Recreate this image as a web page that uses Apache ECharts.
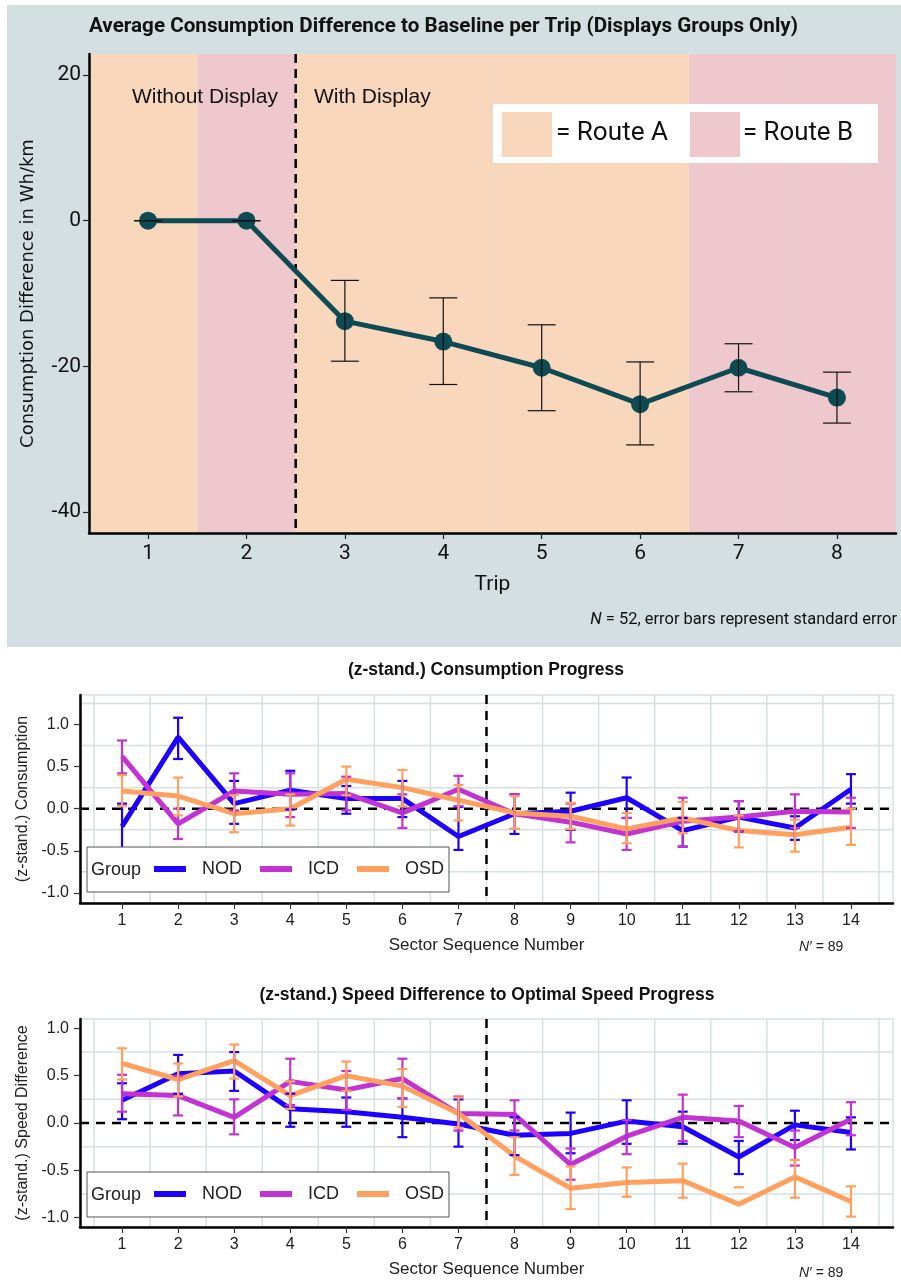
<!DOCTYPE html>
<html><head><meta charset="utf-8">
<script src="https://cdn.jsdelivr.net/npm/echarts@6/dist/echarts.min.js"></script>
<style>html,body{margin:0;padding:0;background:#fff}#c{width:901px;height:1281px}</style>
</head><body><div id="c"></div>
<script>
// ---------- DATA ----------
const trips = [1, 2, 3, 4, 5, 6, 7, 8];
const tripRoute = ['A', 'B', 'A', 'A', 'A', 'A', 'B', 'B'];
const tripMean = [0, 0, -13.8, -16.6, -20.2, -25.2, -20.2, -24.3];
const tripLow  = [0, 0, -19.3, -22.5, -26.1, -30.8, -23.5, -27.8];
const tripHigh = [0, 0, -8.2, -10.6, -14.3, -19.4, -16.9, -20.8];
const displayStart = 2.5;
const tripYTicks = [-40, -20, 0, 20];

const sectors = [1, 2, 3, 4, 5, 6, 7, 8, 9, 10, 11, 12, 13, 14];
const sectorDisplayStart = 7.5;
const zTicks = [-1, -0.5, 0, 0.5, 1];
const groups = ['NOD', 'ICD', 'OSD'];

const consNOD     = [-0.21, 0.85, 0.06, 0.22, 0.12, 0.12, -0.33, -0.06, -0.03, 0.13, -0.26, -0.10, -0.23, 0.23];
const consNODLow  = [-0.48, 0.59, -0.18, -0.01, -0.06, -0.10, -0.49, -0.30, -0.25, -0.11, -0.45, -0.27, -0.37, 0.06];
const consNODHigh = [0.06, 1.08, 0.33, 0.45, 0.27, 0.33, 0.02, 0.17, 0.19, 0.37, -0.11, 0.09, -0.09, 0.41];
const consICD     = [0.62, -0.18, 0.21, 0.17, 0.18, -0.05, 0.23, -0.06, -0.16, -0.30, -0.15, -0.10, -0.03, -0.04];
const consICDLow  = [0.42, -0.36, -0.02, -0.10, -0.02, -0.23, 0.03, -0.24, -0.40, -0.49, -0.45, -0.27, -0.23, -0.23];
const consICDHigh = [0.81, 0.00, 0.42, 0.42, 0.38, 0.17, 0.39, 0.17, 0.06, -0.11, 0.13, 0.09, 0.17, 0.13];
const consOSD     = [0.21, 0.15, -0.06, 0.00, 0.35, 0.25, 0.10, -0.05, -0.09, -0.24, -0.11, -0.26, -0.31, -0.22];
const consOSDLow  = [0.03, -0.08, -0.28, -0.20, 0.16, 0.03, -0.14, -0.24, -0.24, -0.41, -0.29, -0.46, -0.51, -0.43];
const consOSDHigh = [0.40, 0.37, 0.16, 0.17, 0.50, 0.46, 0.28, 0.15, 0.07, -0.05, 0.08, -0.08, -0.13, 0.00];

const spdNOD     = [0.24, 0.52, 0.55, 0.15, 0.12, 0.06, -0.01, -0.13, -0.11, 0.02, -0.04, -0.36, -0.02, -0.10];
const spdNODLow  = [0.04, 0.31, 0.34, -0.04, -0.04, -0.15, -0.25, -0.34, -0.32, -0.22, -0.22, -0.54, -0.18, -0.28];
const spdNODHigh = [0.42, 0.72, 0.75, 0.31, 0.27, 0.26, 0.25, 0.06, 0.11, 0.24, 0.12, -0.19, 0.13, 0.06];
const spdICD     = [0.31, 0.29, 0.06, 0.44, 0.35, 0.47, 0.10, 0.09, -0.44, -0.14, 0.06, 0.02, -0.26, 0.04];
const spdICDLow  = [0.12, 0.08, -0.12, 0.19, 0.14, 0.26, -0.08, -0.08, -0.60, -0.33, -0.19, -0.15, -0.45, -0.13];
const spdICDHigh = [0.51, 0.50, 0.25, 0.68, 0.55, 0.68, 0.28, 0.24, -0.27, 0.03, 0.30, 0.18, -0.08, 0.22];
const spdOSD     = [0.63, 0.46, 0.66, 0.29, 0.50, 0.39, 0.10, -0.35, -0.69, -0.63, -0.61, -0.86, -0.57, -0.83];
const spdOSDLow  = [0.46, 0.28, 0.47, 0.15, 0.34, 0.17, -0.05, -0.55, -0.91, -0.78, -0.79, null, -0.79, -0.99];
const spdOSDHigh = [0.79, 0.63, 0.83, 0.44, 0.65, 0.57, 0.27, -0.15, -0.46, -0.47, -0.43, -0.68, -0.39, -0.67];

// ---------- STYLE ----------
const COND = "Roboto,'Liberation Sans',sans-serif";
const SANS = "'Liberation Sans',Arial,sans-serif";
const WIDE = "'DejaVu Sans',Verdana,sans-serif";
const COL = { NOD: '#1e00ff', ICD: '#c332d2', OSD: '#ffa05f' };
const ROUTE_COL = { A: '#f8d7bd', B: '#efc8ce' };
const TEAL = '#0e4a53';
const GRIDC = '#d6e0e0';

const X1 = { min: 0.4, max: 8.6 }, Y1 = { min: -42.9, max: 22.9 };
const XS = { min: 0.25, max: 14.75 };
const Y2 = { min: -1.12, max: 1.35 }, Y3 = { min: -1.1, max: 1.1 };

const measureCtx = document.createElement('canvas').getContext('2d');
function fitScale(text, font, target) { measureCtx.font = font; return target / measureCtx.measureText(text).width; }

function ok(v) { return v !== null && v !== undefined && v !== '-' && isFinite(Number(v)); }
function pts(xs, ys) { return xs.map((x, i) => [x, ys[i]]); }
function errItems(xs, lo, hi) { return xs.map((x, i) => [x, ok(lo[i]) ? lo[i] : '-', ok(hi[i]) ? hi[i] : '-']); }

function errRender(capHalf, color, width) {
  return function (params, api) {
    const x = api.value(0), lo = api.value(1), hi = api.value(2);
    const style = { stroke: color, lineWidth: width, fill: null };
    const pLo = ok(lo) ? api.coord([x, lo]) : null;
    const pHi = ok(hi) ? api.coord([x, hi]) : null;
    const kids = [];
    if (pLo && pHi) kids.push({ type: 'line', shape: { x1: pLo[0], y1: pLo[1], x2: pHi[0], y2: pHi[1] }, style });
    [pLo, pHi].forEach(p => { if (p) kids.push({ type: 'line', shape: { x1: p[0] - capHalf, y1: p[1], x2: p[0] + capHalf, y2: p[1] }, style }); });
    return { type: 'group', children: kids };
  };
}
function vLineRender(color, width, dash) {
  return function (params, api) {
    const cs = params.coordSys;
    const x = api.coord([api.value(0), api.value(1)])[0];
    return { type: 'line', shape: { x1: x, y1: cs.y, x2: x, y2: cs.y + cs.height }, style: { stroke: color, lineWidth: width, lineDash: dash } };
  };
}
function hLineRender(color, width, dash) {
  return function (params, api) {
    const cs = params.coordSys;
    const y = api.coord([api.value(0), api.value(1)])[1];
    return { type: 'line', shape: { x1: cs.x, y1: y, x2: cs.x + cs.width, y2: y }, style: { stroke: color, lineWidth: width, lineDash: dash } };
  };
}

// ---------- BUILD ----------
const grids = [
  { left: 89, top: 54, width: 807, height: 479, show: false },
  { left: 80, top: 695, width: 813, height: 208, show: true, borderColor: GRIDC, borderWidth: 1.5, backgroundColor: '#fff' },
  { left: 80, top: 1019, width: 813, height: 208, show: true, borderColor: GRIDC, borderWidth: 1.5, backgroundColor: '#fff' }
];

const xAxes = [
  {
    gridIndex: 0, type: 'value', min: X1.min, max: X1.max,
    axisLine: { show: true, onZero: false, lineStyle: { color: '#000', width: 2.5 } },
    axisTick: { show: true, customValues: trips, length: 6, lineStyle: { color: '#222', width: 1.2 } },
    axisLabel: { customValues: trips, fontFamily: COND, fontSize: 21, color: '#111', margin: 10 },
    splitLine: { show: false },
    name: 'Trip', nameLocation: 'middle', nameGap: 41,
    nameTextStyle: { fontFamily: COND, fontSize: 21, color: '#111' }
  }
];
const yAxes = [
  {
    gridIndex: 0, type: 'value', min: Y1.min, max: Y1.max,
    axisLine: { show: true, onZero: false, lineStyle: { color: '#000', width: 2.5 } },
    axisTick: { show: true, customValues: tripYTicks, length: 6, lineStyle: { color: '#222', width: 1.2 } },
    axisLabel: { customValues: tripYTicks, fontFamily: COND, fontSize: 21, color: '#111', margin: 8 },
    splitLine: { show: false },
    name: 'Consumption Difference in Wh/km', nameLocation: 'middle', nameGap: 52, nameRotate: 90,
    nameTextStyle: { fontFamily: WIDE, fontSize: 18, color: '#111' }
  }
];
[1, 2].forEach(g => {
  const Y = g === 1 ? Y2 : Y3;
  xAxes.push({
    gridIndex: g, type: 'value', min: XS.min, max: XS.max,
    axisLine: { show: true, onZero: false, lineStyle: { color: '#000', width: 2.5 } },
    axisTick: { show: true, customValues: sectors, length: 6, lineStyle: { color: '#333', width: 1.2 } },
    axisLabel: { customValues: sectors, fontFamily: SANS, fontSize: 16, color: '#222', margin: 10 },
    splitLine: { show: false },
    name: 'Sector Sequence Number', nameLocation: 'middle', nameGap: 34,
    nameTextStyle: { fontFamily: SANS, fontSize: 17, color: '#222' }
  });
  yAxes.push({
    gridIndex: g, type: 'value', min: Y.min, max: Y.max,
    axisLine: { show: true, onZero: false, lineStyle: { color: '#000', width: 2.5 } },
    axisTick: { show: true, customValues: zTicks, length: 6, lineStyle: { color: '#333', width: 1.2 } },
    axisLabel: { customValues: zTicks, fontFamily: SANS, fontSize: 16, color: '#222', margin: 11, formatter: v => Number(v).toFixed(1) },
    splitLine: { show: false },
    name: g === 1 ? '(z-stand.) Consumption' : '(z-stand.) Speed Difference',
    nameLocation: 'middle', nameGap: 48, nameRotate: 90,
    nameTextStyle: { fontFamily: SANS, fontSize: 16, color: '#222' }
  });
});

const series = [];
// top: route bands
const bandData = trips.map((t, i) => [i === 0 ? X1.min : t - 0.5, i === trips.length - 1 ? X1.max : t + 0.5, i]);
series.push({
  type: 'custom', xAxisIndex: 0, yAxisIndex: 0, z: 0, silent: true, clip: true,
  encode: { x: [0, 1] },
  data: bandData,
  renderItem: (params, api) => {
    const cs = params.coordSys;
    const x0 = api.coord([api.value(0), 0])[0], x1 = api.coord([api.value(1), 0])[0];
    return { type: 'rect', shape: { x: x0, y: cs.y, width: x1 - x0, height: cs.height }, style: { fill: ROUTE_COL[tripRoute[api.value(2)]] } };
  }
});
series.push({
  type: 'custom', xAxisIndex: 0, yAxisIndex: 0, z: 1, silent: true,
  encode: { x: 0, y: 1 }, data: [[displayStart, 0]],
  renderItem: vLineRender('#000', 2.5, [9, 6])
});
series.push({
  name: 'Trip mean', type: 'line', xAxisIndex: 0, yAxisIndex: 0, z: 2,
  data: pts(trips, tripMean), symbol: 'circle', symbolSize: 18,
  lineStyle: { color: TEAL, width: 5 }, itemStyle: { color: TEAL }
});
series.push({
  type: 'custom', xAxisIndex: 0, yAxisIndex: 0, z: 3, silent: true,
  encode: { x: 0, y: [1, 2] }, data: errItems(trips, tripLow, tripHigh),
  renderItem: errRender(14, '#111', 1.2)
});

// lower panels
const gridXLines = sectors.map(s => s - 0.5).concat([sectors[sectors.length - 1] + 0.5]);
const gridYLines = [-0.75, -0.25, 0.25, 0.75, 1.25];
const lowerSets = [
  { g: 1, m: [consNOD, consICD, consOSD], lo: [consNODLow, consICDLow, consOSDLow], hi: [consNODHigh, consICDHigh, consOSDHigh] },
  { g: 2, m: [spdNOD, spdICD, spdOSD], lo: [spdNODLow, spdICDLow, spdOSDLow], hi: [spdNODHigh, spdICDHigh, spdOSDHigh] }
];
lowerSets.forEach(set => {
  const g = set.g;
  series.push({ type: 'custom', xAxisIndex: g, yAxisIndex: g, z: 0, silent: true, clip: true,
    encode: { x: 0, y: 1 }, data: gridXLines.map(v => [v, 0]), renderItem: vLineRender(GRIDC, 1.5, null) });
  series.push({ type: 'custom', xAxisIndex: g, yAxisIndex: g, z: 0, silent: true, clip: true,
    encode: { x: 0, y: 1 }, data: gridYLines.map(v => [1, v]), renderItem: hLineRender(GRIDC, 1.5, null) });
  series.push({ type: 'custom', xAxisIndex: g, yAxisIndex: g, z: 1, silent: true,
    encode: { x: 0, y: 1 }, data: [[1, 0]], renderItem: hLineRender('#000', 2.5, [9, 7]) });
  series.push({ type: 'custom', xAxisIndex: g, yAxisIndex: g, z: 1, silent: true,
    encode: { x: 0, y: 1 }, data: [[sectorDisplayStart, 0]], renderItem: vLineRender('#000', 2.5, [9, 7]) });
  groups.forEach((name, k) => {
    series.push({
      name, type: 'line', xAxisIndex: g, yAxisIndex: g, z: 2,
      data: pts(sectors, set.m[k]), symbol: 'none', showSymbol: false,
      lineStyle: { color: COL[name], width: 5 }, itemStyle: { color: COL[name] }
    });
    series.push({
      type: 'custom', xAxisIndex: g, yAxisIndex: g, z: 3, silent: true,
      encode: { x: 0, y: [1, 2] }, data: errItems(sectors, set.lo[k], set.hi[k]),
      renderItem: errRender(5, COL[name], 2.2)
    });
  });
});

const legendBase = {
  data: groups, orient: 'horizontal', left: 87, icon: 'rect', itemWidth: 32, itemHeight: 6, itemGap: 18,
  backgroundColor: '#fff', borderColor: '#555', borderWidth: 1, borderRadius: 0,
  padding: [12, 5, 13, 67], z: 10, selectedMode: false,
  textStyle: { fontFamily: SANS, fontSize: 18, color: '#222', lineHeight: 20, padding: [0, 0, 0, 11] }
};
const legends = [Object.assign({}, legendBase, { top: 847 }), Object.assign({}, legendBase, { top: 1172 })];

const titleText = 'Average Consumption Difference to Baseline per Trip (Displays Groups Only)';
const titleFont = 'bold 21px ' + COND;
const routeFont = '25px ' + COND;
const footText = 'N = 52, error bars represent standard error';
const footFont = '17px ' + COND;

const graphics = [
  { type: 'rect', z: -100, shape: { x: 7, y: 5, width: 894, height: 642 }, style: { fill: '#d3dfe0' } },
  { type: 'text', z: 100, x: 89, y: 27, scaleX: fitScale(titleText, titleFont, 709),
    style: { text: titleText, font: titleFont, fill: '#111', align: 'left', verticalAlign: 'middle' } },
  { type: 'text', z: 100, x: 132, y: 97, style: { text: 'Without Display', fontFamily: SANS, fontSize: 21, fill: '#111', align: 'left', verticalAlign: 'middle' } },
  { type: 'text', z: 100, x: 314, y: 97, style: { text: 'With Display', fontFamily: SANS, fontSize: 21, fill: '#111', align: 'left', verticalAlign: 'middle' } },
  { type: 'rect', z: 100, shape: { x: 493, y: 104, width: 385, height: 59 }, style: { fill: '#fff' } },
  { type: 'rect', z: 101, shape: { x: 502, y: 112, width: 50, height: 45 }, style: { fill: ROUTE_COL.A } },
  { type: 'rect', z: 101, shape: { x: 690, y: 112, width: 50, height: 45 }, style: { fill: ROUTE_COL.B } },
  { type: 'text', z: 101, x: 556, y: 134, scaleX: fitScale('= Route A', routeFont, 112),
    style: { text: '= Route A', font: routeFont, fill: '#111', align: 'left', verticalAlign: 'middle' } },
  { type: 'text', z: 101, x: 743, y: 134, scaleX: fitScale('= Route B', routeFont, 110),
    style: { text: '= Route B', font: routeFont, fill: '#111', align: 'left', verticalAlign: 'middle' } },
  { type: 'text', z: 100, x: 897, y: 620, scaleX: fitScale(footText, footFont, 307),
    style: { text: '{i|N}{r| = 52, error bars represent standard error}', align: 'right', verticalAlign: 'middle',
      rich: { i: { fontFamily: COND, fontStyle: 'italic', fontSize: 17, fill: '#111' }, r: { fontFamily: COND, fontSize: 17, fill: '#111' } } } },
  { type: 'text', z: 100, x: 486, y: 670, style: { text: '(z-stand.) Consumption Progress', fontFamily: SANS, fontWeight: 'bold', fontSize: 17.5, fill: '#111', align: 'center', verticalAlign: 'middle' } },
  { type: 'text', z: 100, x: 487, y: 995, style: { text: '(z-stand.) Speed Difference to Optimal Speed Progress', fontFamily: SANS, fontWeight: 'bold', fontSize: 17.5, fill: '#111', align: 'center', verticalAlign: 'middle' } },
  { type: 'text', z: 100, x: 91, y: 870, style: { text: 'Group', fontFamily: SANS, fontSize: 18, fill: '#222', align: 'left', verticalAlign: 'middle' } },
  { type: 'text', z: 100, x: 91, y: 1195, style: { text: 'Group', fontFamily: SANS, fontSize: 18, fill: '#222', align: 'left', verticalAlign: 'middle' } },
  { type: 'text', z: 100, x: 799, y: 947, style: { text: "{i|N′}{r| = 89}", align: 'left', verticalAlign: 'middle',
      rich: { i: { fontFamily: SANS, fontStyle: 'italic', fontSize: 14, fill: '#222' }, r: { fontFamily: SANS, fontSize: 14, fill: '#222' } } } },
  { type: 'text', z: 100, x: 799, y: 1273, style: { text: "{i|N′}{r| = 89}", align: 'left', verticalAlign: 'middle',
      rich: { i: { fontFamily: SANS, fontStyle: 'italic', fontSize: 14, fill: '#222' }, r: { fontFamily: SANS, fontSize: 14, fill: '#222' } } } }
];

const chart = echarts.init(document.getElementById('c'), null, { renderer: 'canvas', width: 901, height: 1281 });
chart.setOption({
  backgroundColor: '#fff',
  animation: false,
  textStyle: { fontFamily: SANS },
  grid: grids,
  xAxis: xAxes,
  yAxis: yAxes,
  legend: legends,
  graphic: { elements: graphics },
  series
});
</script></body></html>
